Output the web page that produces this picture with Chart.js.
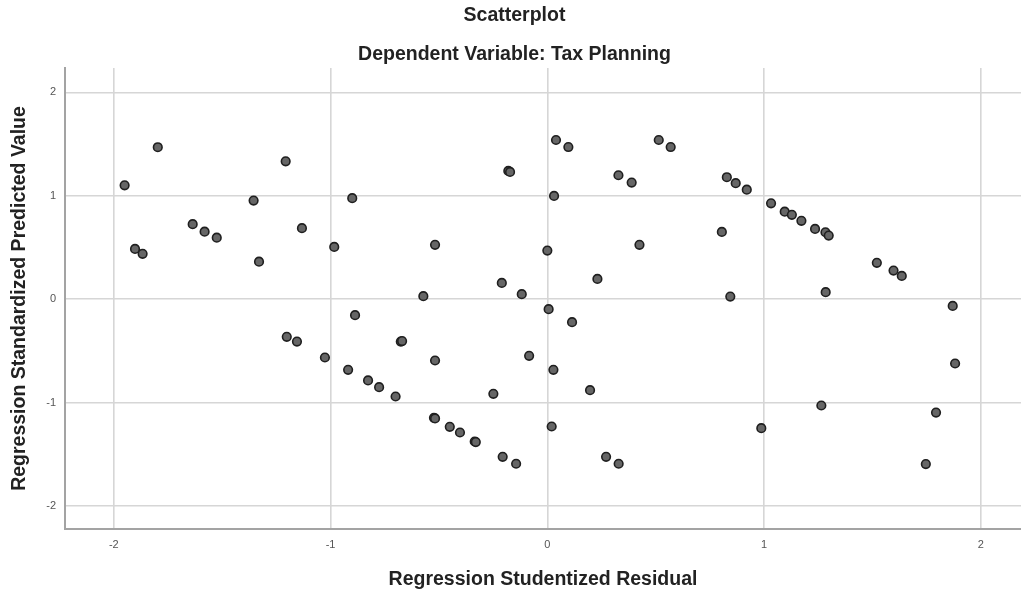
<!DOCTYPE html>
<html>
<head>
<meta charset="utf-8">
<script src="https://cdn.jsdelivr.net/npm/chart.js@4/dist/chart.umd.min.js"></script>
<style>
  html, body { margin: 0; padding: 0; background: #ffffff; }
  #wrap { width: 1021px; height: 592px; }
</style>
</head>
<body>
<div id="wrap"><canvas id="chart" width="1021" height="592"></canvas></div>
<script>
// Regression residual diagnostics: studentized residual vs standardized predicted value
const studentizedResidual = [
  -1.797, -1.950, -1.902, -1.867, -1.636, -1.581, -1.525, -1.355, -1.330, -1.207,
  -1.132, -0.983, -1.202, -1.155, -1.026, -0.900, -0.518, -0.180, -0.172, 0.040,
  0.097, 0.031, 0.000, 0.328, 0.389, 0.425, 0.231, -0.210, -0.118, -0.572,
  0.514, 0.569, 0.006, 0.114, -0.887, -0.676, -0.670, -0.919, -0.518, -0.084,
  0.028, -0.827, -0.776, -0.700, -0.249, 0.197, -0.523, -0.518, -0.450, -0.403,
  -0.335, -0.330, -0.206, -0.144, 0.020, 0.271, 0.329, 0.828, 0.869, 0.920,
  1.032, 1.095, 1.128, 1.172, 1.235, 1.283, 1.298, 0.805, 1.520, 1.597,
  1.635, 0.844, 1.284, 1.870, 1.881, 1.264, 1.793, 0.987, 1.746
];
const standardizedPredicted = [
  1.469, 1.101, 0.486, 0.438, 0.725, 0.653, 0.595, 0.953, 0.363, 1.333,
  0.686, 0.505, -0.364, -0.410, -0.564, 0.976, 0.525, 1.240, 1.230, 1.539,
  1.471, 0.998, 0.470, 1.198, 1.127, 0.525, 0.196, 0.157, 0.048, 0.029,
  1.539, 1.471, -0.097, -0.222, -0.155, -0.410, -0.405, -0.683, -0.593, -0.548,
  -0.683, -0.786, -0.851, -0.941, -0.915, -0.880, -1.147, -1.153, -1.234, -1.289,
  -1.376, -1.382, -1.524, -1.591, -1.231, -1.524, -1.591, 1.179, 1.121, 1.059,
  0.927, 0.846, 0.815, 0.757, 0.679, 0.647, 0.615, 0.650, 0.351, 0.276,
  0.225, 0.025, 0.068, -0.065, -0.622, -1.028, -1.096, -1.247, -1.594
];
const axisTicks = [-2, -1, 0, 1, 2];

const points = studentizedResidual.map((x, i) => ({ x: x, y: standardizedPredicted[i] }));

const FONT = "'Liberation Sans', Arial, sans-serif";
const GRID = '#d6d6d6';
const AXIS = '#a3a3a3';
const HEAD_SIZE = 19.5;

new Chart(document.getElementById('chart'), {
  type: 'scatter',
  data: {
    datasets: [{
      data: points,
      pointRadius: 4.3,
      pointHoverRadius: 4.3,
      pointBackgroundColor: '#666666',
      pointBorderColor: '#1f1f1f',
      pointBorderWidth: 1.6
    }]
  },
  options: {
    responsive: false,
    animation: false,
    devicePixelRatio: 1,
    layout: { autoPadding: false, padding: { left: 8, right: 0, top: 0, bottom: 0 } },
    plugins: {
      legend: { display: false },
      tooltip: { enabled: false },
      title: {
        display: true,
        text: 'Scatterplot',
        color: '#222222',
        font: { family: FONT, size: HEAD_SIZE, weight: 'bold' },
        padding: { top: 4.3, bottom: 15.6 }
      },
      subtitle: {
        display: true,
        text: 'Dependent Variable: Tax Planning',
        color: '#222222',
        font: { family: FONT, size: HEAD_SIZE, weight: 'bold' },
        padding: { top: 0, bottom: 1.3 }
      }
    },
    scales: {
      x: {
        type: 'linear',
        min: -2.225,
        max: 2.185,
        afterBuildTicks: (scale) => { scale.ticks = axisTicks.map(v => ({ value: v })); },
        afterFit: (scale) => { scale.height = 63; },
        ticks: {
          includeBounds: false,
          stepSize: 1,
          padding: 9,
          color: '#555555',
          font: { family: FONT, size: 11 },
          callback: (v) => String(v)
        },
        grid: { color: GRID, lineWidth: 1.6, drawTicks: false },
        border: { display: true, color: AXIS, width: 2 },
        title: {
          display: true,
          text: 'Regression Studentized Residual',
          color: '#222222',
          font: { family: FONT, size: HEAD_SIZE, weight: 'bold' },
          padding: { top: 0, bottom: 0.5 }
        }
      },
      y: {
        type: 'linear',
        min: -2.222,
        max: 2.235,
        afterBuildTicks: (scale) => { scale.ticks = axisTicks.map(v => ({ value: v })); },
        afterFit: (scale) => { scale.width = 57; },
        ticks: {
          includeBounds: false,
          stepSize: 1,
          padding: 9,
          color: '#555555',
          font: { family: FONT, size: 11 },
          callback: (v) => String(v)
        },
        grid: { color: GRID, lineWidth: 1.6, drawTicks: false },
        border: { display: true, color: AXIS, width: 2 },
        title: {
          display: true,
          text: 'Regression Standardized Predicted Value',
          color: '#222222',
          font: { family: FONT, size: HEAD_SIZE, weight: 'bold' },
          padding: { top: 0.3, bottom: 0 }
        }
      }
    }
  }
});
</script>
</body>
</html>
